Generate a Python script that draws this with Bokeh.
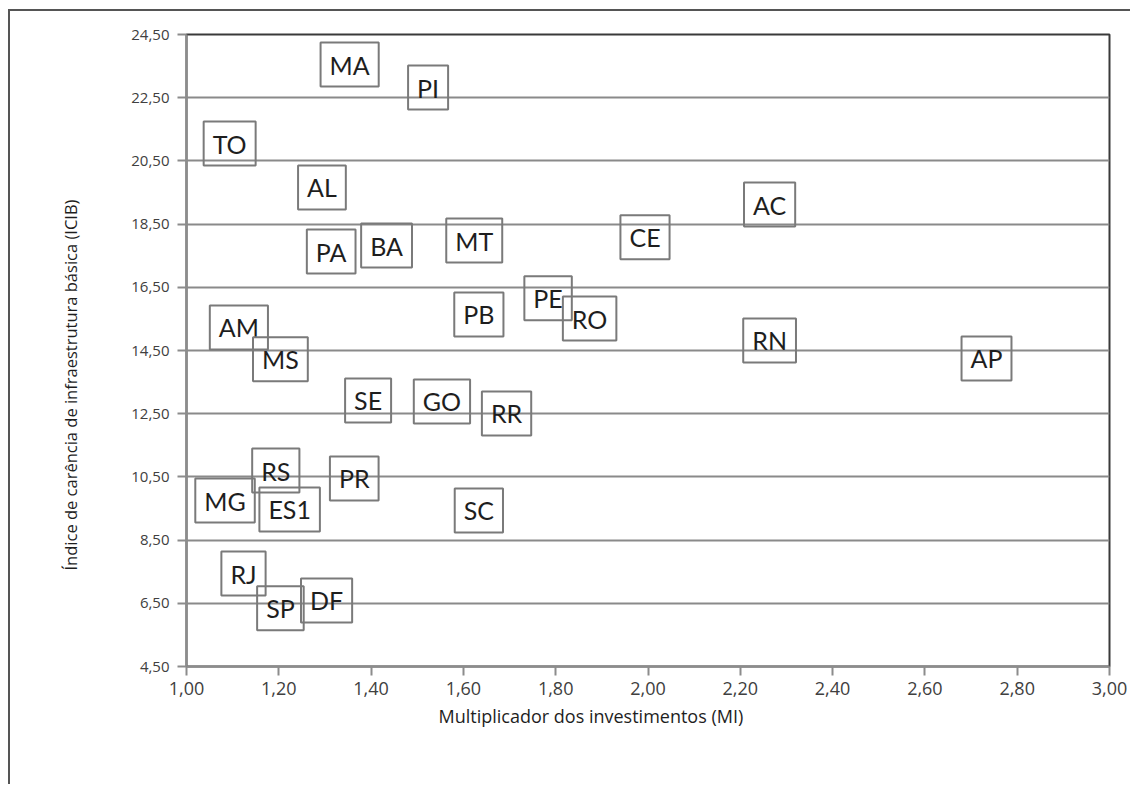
from bokeh.plotting import figure
from bokeh.models import Label, FixedTicker, CustomJSTickFormatter, Range1d, Title
from bokeh.layouts import column
from bokeh.embed import file_html
from bokeh.resources import INLINE

states = ["MA", "PI", "TO", "AL", "PA", "BA", "MT", "CE", "AC", "PE", "RO", "PB", "AM", "MS",
          "RN", "AP", "SE", "GO", "RR", "RS", "PR", "MG", "ES1", "SC", "RJ", "SP", "DF"]
mi = [1.36, 1.53, 1.10, 1.30, 1.32, 1.44, 1.63, 2.00, 2.27, 1.79, 1.88, 1.64, 1.12, 1.21,
      2.27, 2.74, 1.40, 1.56, 1.70, 1.20, 1.37, 1.09, 1.23, 1.64, 1.13, 1.21, 1.31]
icib = [23.55, 22.82, 21.05, 19.66, 17.63, 17.82, 17.98, 18.08, 19.12, 16.15, 15.51, 15.64, 15.23, 14.22,
        14.82, 14.25, 12.92, 12.89, 12.51, 10.70, 10.45, 9.75, 9.47, 9.44, 7.44, 6.34, 6.59]
x_ticks = [1.0, 1.2, 1.4, 1.6, 1.8, 2.0, 2.2, 2.4, 2.6, 2.8, 3.0]
y_ticks = [4.5, 6.5, 8.5, 10.5, 12.5, 14.5, 16.5, 18.5, 20.5, 22.5, 24.5]
x_title = "Multiplicador dos investimentos (MI)"
y_title = "Índice de carência de infraestrutura básica (ICIB)"

W, H = 1120, 773
p = figure(width=W, height=H, output_backend="svg", toolbar_location=None,
           x_range=Range1d(1.0, 3.0), y_range=Range1d(4.5, 24.5),
           min_border_left=171, min_border_right=21, min_border_top=23, min_border_bottom=118)
p.background_fill_color = "white"
p.border_fill_color = "white"
p.outline_line_color = "#3a3a3a"
p.outline_line_width = 2

fmt = CustomJSTickFormatter(code="return tick.toFixed(2).replace('.', ',');")
for ax, ticks, fs, so in ((p.xaxis[0], x_ticks, "18px", 6), (p.yaxis[0], y_ticks, "15px", 8)):
    ax.ticker = FixedTicker(ticks=ticks)
    ax.formatter = fmt
    ax.minor_tick_line_color = None
    ax.major_tick_in = 0
    ax.major_tick_out = 9
    ax.major_tick_line_color = "#8c8c8c"
    ax.major_tick_line_width = 2
    ax.axis_line_color = "#8c8c8c"
    ax.axis_line_width = 2
    ax.major_label_text_font = "Open Sans"
    ax.major_label_text_font_size = fs
    ax.major_label_text_color = "#404040"
    ax.major_label_standoff = so

p.xgrid.grid_line_color = None
p.ygrid.ticker = FixedTicker(ticks=y_ticks)
p.ygrid.grid_line_color = "#8a8a8a"
p.ygrid.grid_line_width = 2

for s, x, y in zip(states, mi, icib):
    p.add_layout(Label(x=x, y=y, text=s, text_align="center", text_baseline="middle",
                       x_offset=-3,
                       text_font="Lato", text_font_size="25px", text_color="#1e1e1e",
                       border_line_color="#7a7a7a", border_line_width=2,
                       padding=(9, 7)))

p.add_layout(Title(text=y_title, align="left", offset=96, standoff=93,
                   text_font="Open Sans", text_font_size="16.5px", text_font_style="normal",
                   text_color="#1e1e1e"), "left")
p.add_layout(Title(text=x_title, align="left", offset=252, standoff=8,
                   text_font="Open Sans", text_font_size="18px", text_font_style="normal",
                   text_color="#1e1e1e"), "below")

layout = column(p, styles={"margin-top": "9px", "margin-left": "8px",
                           "border-top": "2px solid #555555", "border-left": "2px solid #555555"})
open("out.html", "w").write(file_html(layout, INLINE))
